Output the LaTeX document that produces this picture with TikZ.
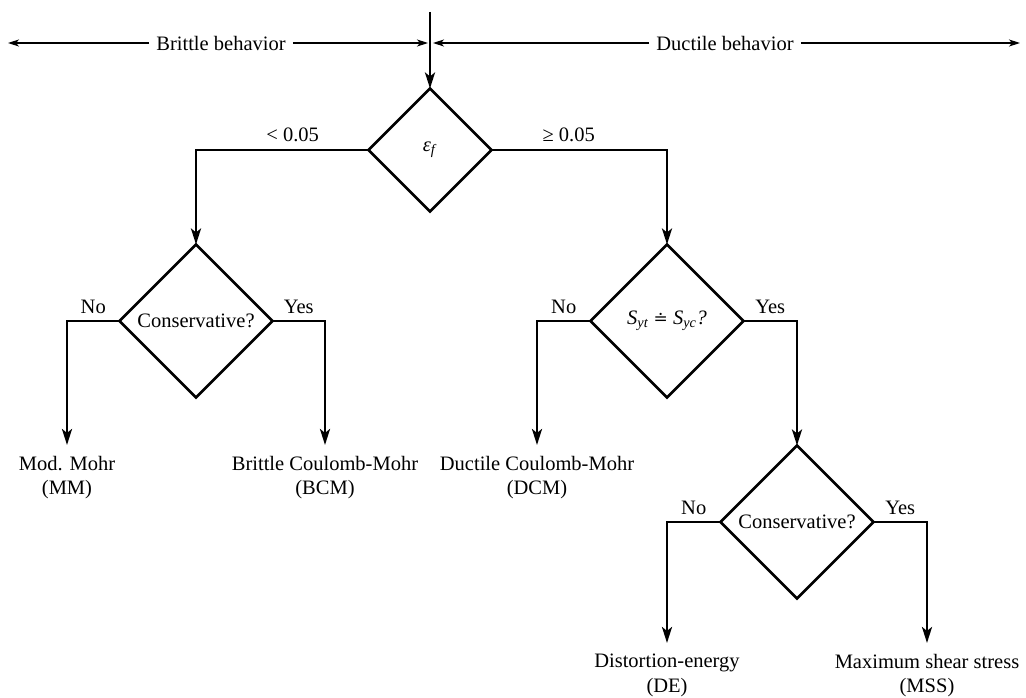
\documentclass[tikz,border=0pt]{standalone}
\usepackage{fontspec}
\setmainfont{Liberation Serif}
\newfontfamily\symfont{DejaVu Serif}
\usetikzlibrary{shapes.geometric,arrows.meta}
\begin{document}
\begin{tikzpicture}[x=1pt,y=-1pt,
  every node/.style={font=\fontsize{20.5}{24.5}\selectfont},
  dia/.style={diamond, draw, line width=2.7pt, inner sep=0pt, outer sep=0pt,
    minimum width=#1, minimum height=#1, aspect=1},
  flow/.style={line width=2.7pt, -{Stealth[length=16pt,width=10pt,inset=4pt]}},
  thin/.style={line width=1.1pt, -{Stealth[length=11pt,width=7pt,inset=3pt]}},
  lbl/.style={anchor=base, yshift=8pt, inner sep=0pt},
  res/.style={anchor=north, align=center, inner sep=0pt, outer ysep=11pt},
  head/.style={inner xsep=7pt, inner ysep=0pt}]
\useasboundingbox (0,0) rectangle (1026,698);

% top behaviour scale
\coordinate (start) at (430,12);
\coordinate (lend) at (8,43);
\coordinate (mid1) at (428,43);
\coordinate (mid2) at (433,43);
\coordinate (rend) at (1020,43);
\node[head] (brit) at (221,43) {Brittle behavior};
\node[head] (duct) at (725,43) {Ductile behavior};
\draw[thin] (brit.west) -- (lend);
\draw[thin] (brit.east) -- (mid1);
\draw[thin] (duct.west) -- (mid2);
\draw[thin] (duct.east) -- (rend);

% decision nodes
\node[dia=123pt] (eps) at (430,150) {\textit{ε}\textsubscript{\textit{f}}};
\node[dia=153pt] (cl) at (196,321) {Conservative?};
\node[dia=153pt] (sy) at (667,321)
  {\textit{S}\textsubscript{\textit{yt}} {\symfont\fontsize{17}{20}\selectfont ≐} \textit{S}\textsubscript{\textit{yc}}\textit{?}};
\node[dia=153pt] (cb) at (797,522) {Conservative?};

% results
\node[res] (mm)  at (67,445)  {Mod. Mohr\\(MM)};
\node[res] (bcm) at (325,445) {Brittle Coulomb-Mohr\\(BCM)};
\node[res] (dcm) at (537,445) {Ductile Coulomb-Mohr\\(DCM)};
\node[res] (de)  at (667,643) {Distortion-energy\\(DE)};
\node[res] (mss) at (927,643) {Maximum shear stress\\(MSS)};

% connectors
\draw[flow] (start) -- (eps.north);
\draw[flow] (eps.west) -| node[lbl,pos=0.22]{< 0.05} (cl.north);
\draw[flow] (eps.east) -| node[lbl,pos=0.22]{≥ 0.05} (sy.north);
\draw[flow] (cl.west) -| node[lbl,pos=0.25]{No} (mm.north);
\draw[flow] (cl.east) -| node[lbl,pos=0.25]{Yes} (bcm.north);
\draw[flow] (sy.west) -| node[lbl,pos=0.25]{No} (dcm.north);
\draw[flow] (sy.east) -| node[lbl,pos=0.25]{Yes} (cb.north);
\draw[flow] (cb.west) -| node[lbl,pos=0.25]{No} (de.north);
\draw[flow] (cb.east) -| node[lbl,pos=0.25]{Yes} (mss.north);
\end{tikzpicture}
\end{document}
